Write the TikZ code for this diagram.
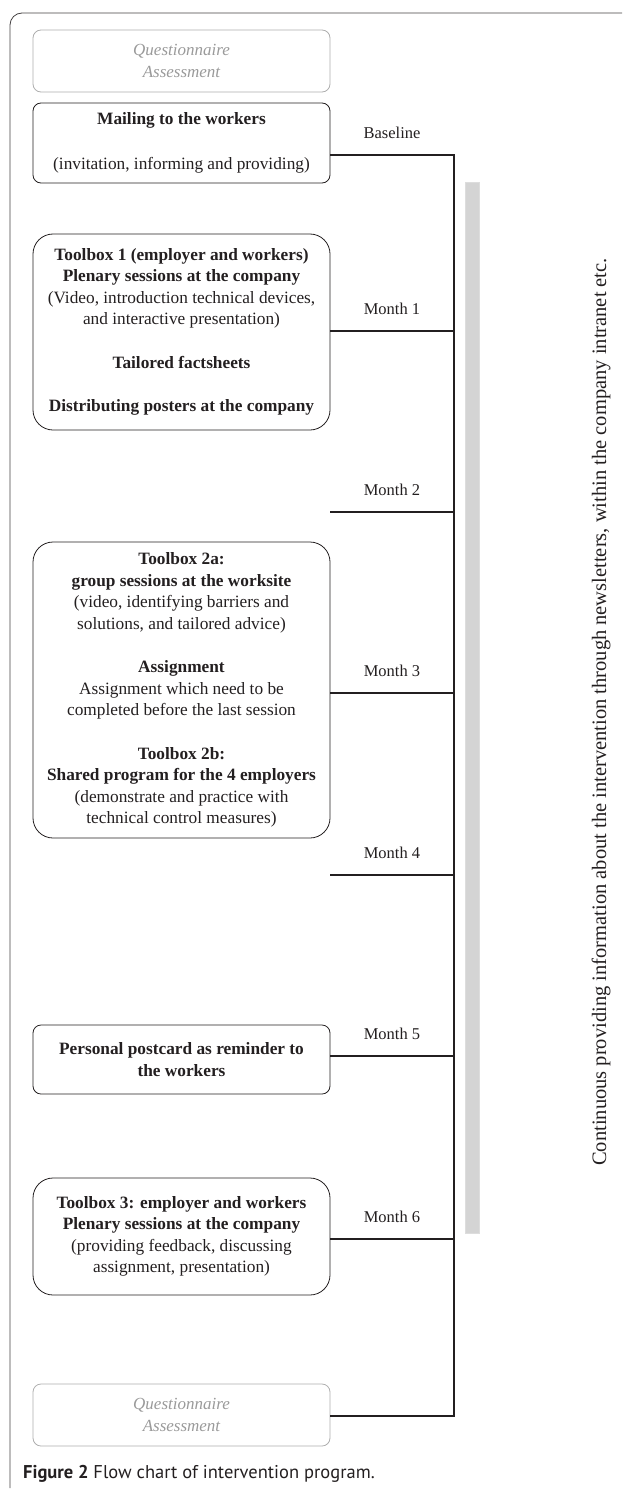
\documentclass[tikz,border=0pt]{standalone}
\usepackage{fontspec}
\setmainfont{Liberation Serif}
\newfontfamily\capfont{PT Sans}
\definecolor{ink}{HTML}{231F20}
\definecolor{qgray}{HTML}{9A9A9A}
\definecolor{bargray}{HTML}{D4D4D4}
\begin{document}
\begin{tikzpicture}[x=1pt, y=-1pt,
    box/.style={draw=ink, line width=0.8pt, rounded corners=8pt, minimum width=297pt,
      align=center, text=ink, inner sep=0pt, font=\fontsize{17.3}{21.5}\selectfont},
    bigbox/.style={box, rounded corners=20pt},
    qbox/.style={box, draw=qgray!80, text=qgray, font=\fontsize{17}{21.5}\selectfont\itshape},
    month/.style={text=ink, inner sep=0pt, font=\fontsize{16.5}{20}\selectfont},
    link/.style={draw=ink, line width=1.2pt}]
  \useasboundingbox (0,0) rectangle (622,1490);
  % outer frame
  \draw[ink!85, line width=0.8pt, rounded corners=12pt] (10,1488) -- (10,13) -- (622,13);

  % boxes
  \node[qbox, minimum height=62pt] (q1) at (181.5,61) {Questionnaire\\Assessment};
  \node[box, minimum height=80pt] (mail) at (181.5,143)
    {\textbf{Mailing to the workers}\\[24pt](invitation, informing and providing)};
  \node[bigbox, minimum height=196pt] (tb1) at (181.5,332)
    {\textbf{Toolbox 1 (employer and workers)}\\
     \textbf{Plenary sessions at the company}\\
     (Video, introduction technical devices,\\
     and interactive presentation)\\[22pt]
     \textbf{Tailored factsheets}\\[22pt]
     \textbf{Distributing posters at the company}};
  \node[bigbox, minimum height=296pt] (tb2) at (181.5,690)
    {\textbf{Toolbox 2a:}\\
     \textbf{group sessions at the worksite}\\
     (video, identifying barriers and\\
     solutions, and tailored advice)\\[22pt]
     \textbf{Assignment}\\
     Assignment which need to be\\
     completed before the last session\\[22pt]
     \textbf{Toolbox 2b:}\\
     \textbf{Shared program for the 4 employers}\\
     (demonstrate and practice with\\
     technical control measures)};
  \node[box, minimum height=69pt] (card) at (181.5,1059.5)
    {\textbf{Personal postcard as reminder to}\\\textbf{the workers}};
  \node[bigbox, minimum height=117pt] (tb3) at (181.5,1236.5)
    {\textbf{Toolbox 3: employer and workers}\\
     \textbf{Plenary sessions at the company}\\
     (providing feedback, discussing\\
     assignment, presentation)};
  \node[qbox, minimum height=62pt] (q2) at (181.5,1415) {Questionnaire\\Assessment};

  % time line
  \coordinate (m0) at (454,155);
  \coordinate (m1) at (454,331);
  \coordinate (m2) at (454,512);
  \coordinate (m3) at (454,693);
  \coordinate (m4) at (454,875);
  \coordinate (m5) at (454,1056);
  \coordinate (m6) at (454,1239);
  \coordinate (mend) at (454,1416);
  \coordinate (t2) at (330,512);
  \coordinate (t4) at (330,875);

  \draw[link] (mail.east |- m0) -- (m0) -- (mend) -- (q2.east |- mend);
  \draw[link] (tb1.east |- m1) -- (m1);
  \draw[link] (t2) -- (m2);
  \draw[link] (tb2.east |- m3) -- (m3);
  \draw[link] (t4) -- (m4);
  \draw[link] (card.east |- m5) -- (m5);
  \draw[link] (tb3.east |- m6) -- (m6);

  \foreach \m/\t in {m0/Baseline, m1/Month 1, m2/Month 2, m3/Month 3,
                     m4/Month 4, m5/Month 5, m6/Month 6}
    \node[month] (lab-\m) at ([xshift=-62pt, yshift=22pt]\m) {\t};

  % side bar
  \node[fill=bargray, draw=bargray!80!white, minimum width=14pt, minimum height=1051pt,
        inner sep=0pt] (bar) at (472,707.5) {};
  \node[rotate=90, text=ink, inner sep=0pt, font=\fontsize{20.5}{22}\selectfont] (note) at (601,712)
    {Continuous providing information about the intervention through newsletters, within the company intranet etc.};

  \node[anchor=base west, text=ink, inner sep=0pt, font=\capfont\fontsize{18.5}{20}\selectfont] (cap) at (23,1478)
    {\textbf{Figure 2} Flow chart of intervention program.};
\end{tikzpicture}
\end{document}
